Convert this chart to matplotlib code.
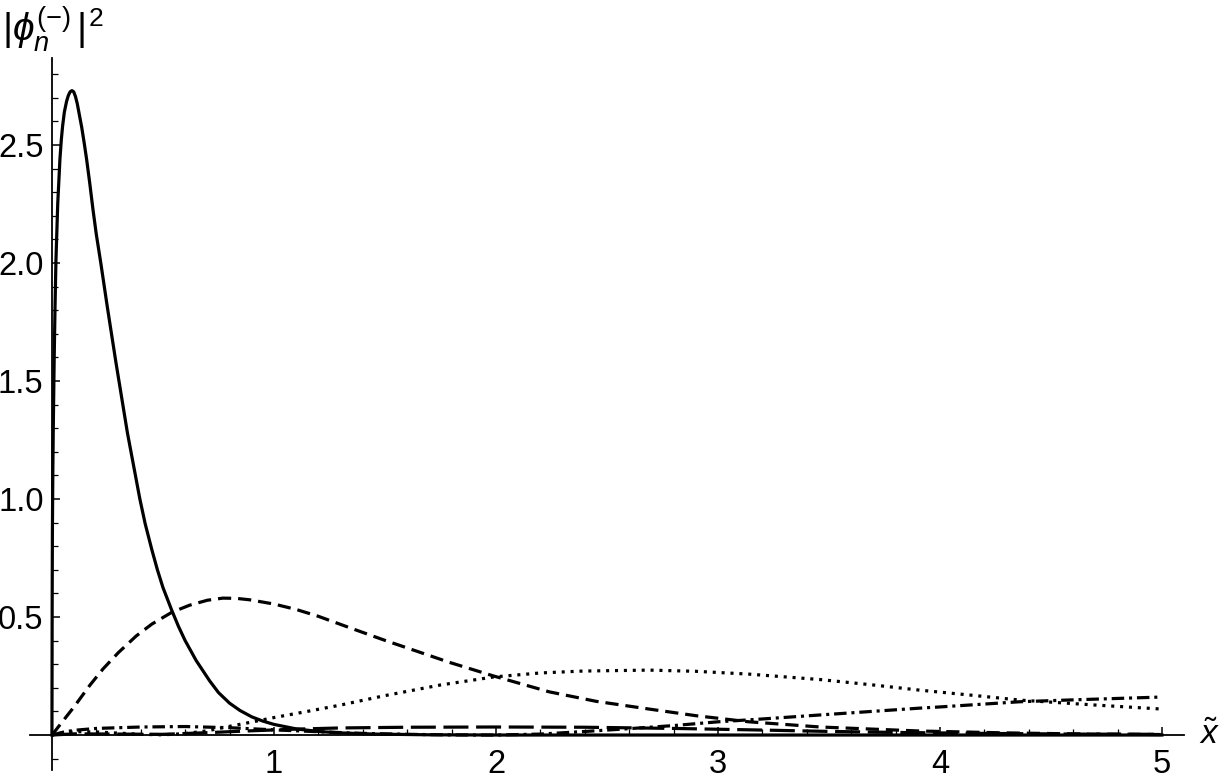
import matplotlib.pyplot as plt

plt.rcParams['font.family'] = ['Liberation Sans', 'DejaVu Sans']
plt.rcParams['mathtext.fontset'] = 'custom'
plt.rcParams['mathtext.rm'] = 'Liberation Sans'
plt.rcParams['mathtext.it'] = 'Liberation Sans:italic'
plt.rcParams['lines.scale_dashes'] = False

# values (x, |phi|^2)
x_n0 = [0, 0.001, 0.002, 0.004, 0.006, 0.01, 0.014, 0.018, 0.026, 0.036, 0.042, 0.048, 0.056, 0.066,
        0.074, 0.082, 0.09, 0.098, 0.106, 0.114, 0.122, 0.134, 0.145, 0.156, 0.17, 0.185, 0.2,
        0.22, 0.25, 0.288, 0.34, 0.396, 0.42, 0.45, 0.475, 0.5, 0.539, 0.57, 0.6, 0.65, 0.71,
        0.75, 0.8, 0.847, 0.9, 0.95, 1.0, 1.1, 1.2, 1.3, 1.45, 1.7, 2.0, 3.0, 4.0, 5.0]
y_n0 = [0, 0.55, 0.85, 1.12, 1.3, 1.59, 1.82, 2.01, 2.25, 2.44, 2.52, 2.58, 2.64, 2.685,
        2.71, 2.725, 2.73, 2.725, 2.705, 2.675, 2.635, 2.575, 2.51, 2.44, 2.34, 2.225, 2.12,
        2.0, 1.81, 1.58, 1.28, 1.0, 0.895, 0.785, 0.70, 0.625, 0.53, 0.46, 0.40, 0.315, 0.23,
        0.18, 0.135, 0.104, 0.077, 0.059, 0.045, 0.026, 0.015, 0.009, 0.004, 0.001, 0.0, 0.0, 0.0, 0.0]

x_n1 = [0, 0.05, 0.1, 0.17, 0.23, 0.30, 0.38, 0.45, 0.54, 0.62, 0.7, 0.77, 0.83, 0.89, 1.0, 1.1,
        1.2, 1.34, 1.5, 1.65, 1.79, 1.99, 2.24, 2.45, 2.69, 2.9, 3.14, 3.46, 3.91, 4.3, 4.6, 5.0]
y_n1 = [0, 0.06, 0.12, 0.21, 0.28, 0.35, 0.42, 0.47, 0.52, 0.55, 0.571, 0.58, 0.579, 0.573, 0.555, 0.532,
        0.503, 0.455, 0.401, 0.353, 0.308, 0.25, 0.183, 0.143, 0.11, 0.082, 0.056, 0.034, 0.017, 0.009, 0.005, 0.002]

x_n2 = [0, 0.05, 0.1, 0.2, 0.3, 0.4, 0.5, 0.6, 0.7, 0.79, 0.9, 1.0, 1.15, 1.3, 1.5, 1.75, 1.99,
        2.2, 2.39, 2.69, 2.9, 3.14, 3.46, 3.7, 3.91, 4.15, 4.36, 4.7, 5.0]
y_n2 = [0, 0.01, 0.014, 0.013, 0.008, 0.003, 0.001, 0.006, 0.018, 0.035, 0.055, 0.074, 0.1, 0.127, 0.167, 0.212, 0.246,
        0.263, 0.271, 0.275, 0.27, 0.258, 0.235, 0.212, 0.19, 0.168, 0.148, 0.127, 0.11]

x_n3 = [0, 0.05, 0.1, 0.2, 0.4, 0.6, 0.8, 1.0, 1.2, 1.4, 1.6, 1.8, 2.0, 2.2, 2.4, 2.6, 2.8,
        3.0, 3.2, 3.46, 3.6, 3.91, 4.0, 4.36, 4.6, 4.8, 5.0]
y_n3 = [0, 0.012, 0.02, 0.028, 0.034, 0.036, 0.031, 0.022, 0.014, 0.007, 0.003, 0.0005, 0.0, 0.004, 0.015, 0.027, 0.04,
        0.056, 0.068, 0.085, 0.094, 0.114, 0.119, 0.141, 0.149, 0.155, 0.161]

x_n4 = [0, 0.1, 0.3, 0.5, 0.7, 0.9, 1.1, 1.3, 1.6, 2.0, 2.4, 2.8, 3.2, 3.46, 3.8, 4.2, 4.6, 5.0]
y_n4 = [0, 0.005, 0.004, 0.003, 0.01, 0.018, 0.025, 0.030, 0.033, 0.034, 0.033, 0.028, 0.021, 0.016, 0.011, 0.007, 0.004, 0.003]

x_ticks = [1, 2, 3, 4, 5]
y_ticks = [0.5, 1.0, 1.5, 2.0, 2.5]

fig = plt.figure(figsize=(12.21, 7.82), dpi=100)
ax = fig.add_axes([0, 0, 1, 1])

lw = 2.3
ax.plot(x_n0, y_n0, color='black', lw=lw, solid_joinstyle='round')
ax.plot(x_n1, y_n1, color='black', lw=lw, dashes=(9.5, 5), dash_capstyle='butt')
ax.plot(x_n2, y_n2, color='black', lw=lw, dashes=(2.2, 4.2), dash_capstyle='butt')
ax.plot(x_n3, y_n3, color='black', lw=lw, dashes=(9, 3.5, 2.2, 3.5), dash_capstyle='butt')
ax.plot(x_n4, y_n4, color='black', lw=lw, dashes=(18, 5.5), dash_capstyle='butt')

ax.set_xlim(-0.234, 5.266)
ax.set_ylim(-0.199, 3.114)

for side in ['top', 'right']:
    ax.spines[side].set_visible(False)
ax.spines['left'].set_position(('data', 0))
ax.spines['bottom'].set_position(('data', 0))
ax.spines['left'].set_bounds(-0.15, 2.87)
ax.spines['bottom'].set_bounds(-0.1, 5.1)
ax.spines['left'].set_linewidth(1.3)
ax.spines['bottom'].set_linewidth(1.3)

ax.set_xticks(x_ticks)
ax.set_xticklabels([str(t) for t in x_ticks])
ax.set_xticks([v / 5 for v in range(0, 26) if v % 5 != 0], minor=True)
ax.set_yticks(y_ticks)
ax.set_yticklabels([f'{t:.1f}' for t in y_ticks])
ax.set_yticks([v / 10 for v in range(-1, 29) if v % 5 != 0], minor=True)

ax.tick_params(axis='both', which='major', direction='in', length=6, width=1.1,
               labelsize=23.5, color='black')
ax.tick_params(axis='both', which='minor', direction='in', length=4, width=0.9, color='black')
ax.tick_params(axis='x', which='major', pad=10)
ax.tick_params(axis='y', which='major', pad=6)

ax.text(-0.225, 2.99, r'$|\phi_n^{(-)}\,|$', fontsize=28, ha='left', va='center')
ax.text(0.165, 3.035, '2', fontsize=19, ha='left', va='center')
ax.text(5.215, 0.0, r'$\tilde{x}$', fontsize=24, ha='center', va='center')

fig.savefig('out.png', dpi=100)
